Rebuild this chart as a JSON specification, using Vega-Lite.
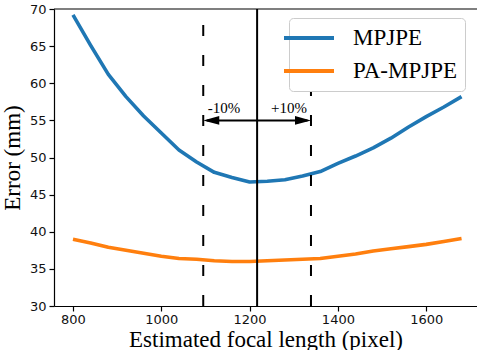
{
  "$schema": "https://vega.github.io/schema/vega-lite/v6.json",
  "width": 423,
  "height": 297,
  "autosize": "none",
  "padding": {"left": 54, "top": 9, "right": 0, "bottom": 44},
  "background": "white",
  "config": {
    "view": {"stroke": null},
    "axis": {
      "grid": false,
      "domainColor": "black",
      "domainWidth": 1.2,
      "tickColor": "black",
      "tickSize": 5,
      "tickWidth": 1.2,
      "labelFont": "DejaVu Sans",
      "labelFontSize": 13,
      "labelColor": "#111",
      "labelPadding": 3,
      "labelOverlap": false,
      "titleFont": "Liberation Serif",
      "titleFontSize": 23,
      "titleFontWeight": "normal",
      "titleColor": "black"
    }
  },
  "encoding": {
    "y": {
      "field": "e", "type": "quantitative",
      "scale": {"domain": [30, 70], "nice": false, "zero": false},
      "axis": {"values": [30, 35, 40, 45, 50, 55, 60, 65, 70], "tickCount": 9, "title": "Error (mm)", "titlePadding": 5}
    }
  },
  "layer": [
    {
      "data": {"values": [
        {"f": 800, "e": 69.2, "metric": "MPJPE"},
        {"f": 840, "e": 65.1, "metric": "MPJPE"},
        {"f": 880, "e": 61.2, "metric": "MPJPE"},
        {"f": 920, "e": 58.2, "metric": "MPJPE"},
        {"f": 960, "e": 55.6, "metric": "MPJPE"},
        {"f": 1000, "e": 53.3, "metric": "MPJPE"},
        {"f": 1040, "e": 51.0, "metric": "MPJPE"},
        {"f": 1080, "e": 49.4, "metric": "MPJPE"},
        {"f": 1120, "e": 48.0, "metric": "MPJPE"},
        {"f": 1160, "e": 47.3, "metric": "MPJPE"},
        {"f": 1200, "e": 46.7, "metric": "MPJPE"},
        {"f": 1240, "e": 46.8, "metric": "MPJPE"},
        {"f": 1280, "e": 47.0, "metric": "MPJPE"},
        {"f": 1320, "e": 47.5, "metric": "MPJPE"},
        {"f": 1360, "e": 48.1, "metric": "MPJPE"},
        {"f": 1400, "e": 49.2, "metric": "MPJPE"},
        {"f": 1440, "e": 50.2, "metric": "MPJPE"},
        {"f": 1480, "e": 51.3, "metric": "MPJPE"},
        {"f": 1520, "e": 52.6, "metric": "MPJPE"},
        {"f": 1560, "e": 54.1, "metric": "MPJPE"},
        {"f": 1600, "e": 55.5, "metric": "MPJPE"},
        {"f": 1640, "e": 56.8, "metric": "MPJPE"},
        {"f": 1680, "e": 58.2, "metric": "MPJPE"},
        {"f": 800, "e": 39.0, "metric": "PA-MPJPE"},
        {"f": 840, "e": 38.5, "metric": "PA-MPJPE"},
        {"f": 880, "e": 37.9, "metric": "PA-MPJPE"},
        {"f": 920, "e": 37.5, "metric": "PA-MPJPE"},
        {"f": 960, "e": 37.1, "metric": "PA-MPJPE"},
        {"f": 1000, "e": 36.7, "metric": "PA-MPJPE"},
        {"f": 1040, "e": 36.4, "metric": "PA-MPJPE"},
        {"f": 1080, "e": 36.3, "metric": "PA-MPJPE"},
        {"f": 1120, "e": 36.1, "metric": "PA-MPJPE"},
        {"f": 1160, "e": 36.0, "metric": "PA-MPJPE"},
        {"f": 1200, "e": 36.0, "metric": "PA-MPJPE"},
        {"f": 1240, "e": 36.1, "metric": "PA-MPJPE"},
        {"f": 1280, "e": 36.2, "metric": "PA-MPJPE"},
        {"f": 1320, "e": 36.3, "metric": "PA-MPJPE"},
        {"f": 1360, "e": 36.4, "metric": "PA-MPJPE"},
        {"f": 1400, "e": 36.7, "metric": "PA-MPJPE"},
        {"f": 1440, "e": 37.0, "metric": "PA-MPJPE"},
        {"f": 1480, "e": 37.4, "metric": "PA-MPJPE"},
        {"f": 1520, "e": 37.7, "metric": "PA-MPJPE"},
        {"f": 1560, "e": 38.0, "metric": "PA-MPJPE"},
        {"f": 1600, "e": 38.3, "metric": "PA-MPJPE"},
        {"f": 1640, "e": 38.7, "metric": "PA-MPJPE"},
        {"f": 1680, "e": 39.1, "metric": "PA-MPJPE"}
      ]},
      "mark": {"type": "line", "strokeWidth": 3.6, "strokeJoin": "round", "strokeCap": "butt"},
      "encoding": {
        "x": {
          "field": "f", "type": "quantitative",
          "scale": {"domain": [757, 1715], "nice": false, "zero": false},
          "axis": {"values": [800, 1000, 1200, 1400, 1600], "format": "d", "title": "Estimated focal length (pixel)", "titlePadding": 2, "labelPadding": 2}
        },
        "color": {
          "field": "metric", "type": "nominal",
          "scale": {"domain": ["MPJPE", "PA-MPJPE"], "range": ["#1f77b4", "#ff7f0e"]},
          "legend": {
            "title": null,
            "orient": "none",
            "legendX": 235,
            "legendY": 9,
            "symbolType": "M-2.5,0L2.5,0",
            "symbolSize": 400,
            "symbolStrokeWidth": 4,
            "symbolFillColor": "transparent",
            "labelFont": "Liberation Serif",
            "labelFontSize": 23,
            "labelColor": "black",
            "labelOffset": 32,
            "rowPadding": 9,
            "padding": 8,
            "strokeColor": "#cccccc",
            "fillColor": "white",
            "cornerRadius": 4
          }
        }
      }
    },
    {
      "data": {"values": [{"f": 1217, "e": 30, "e2": 70}]},
      "mark": {"type": "rule", "color": "black", "strokeWidth": 2},
      "encoding": {
        "x": {"field": "f", "type": "quantitative"},
        "y2": {"field": "e2"}
      }
    },
    {
      "data": {"values": [{"f": 1095, "e": 30, "e2": 70}, {"f": 1339, "e": 30, "e2": 70}]},
      "mark": {"type": "rule", "color": "black", "strokeWidth": 2, "strokeDash": [11, 19]},
      "encoding": {
        "x": {"field": "f", "type": "quantitative"},
        "y2": {"field": "e2"}
      }
    },
    {
      "data": {"values": [{"a": 1217, "b": 1103, "e": 55}, {"a": 1217, "b": 1331, "e": 55}]},
      "mark": {"type": "rule", "color": "black", "strokeWidth": 2},
      "encoding": {
        "x": {"field": "a", "type": "quantitative"},
        "x2": {"field": "b"}
      }
    },
    {
      "data": {"values": [{"f": 1095, "e": 55}]},
      "mark": {"type": "point", "shape": "M0,0L2,-0.55L2,0.55Z", "size": 256, "filled": true, "color": "black", "opacity": 1},
      "encoding": {
        "x": {"field": "f", "type": "quantitative"}
      }
    },
    {
      "data": {"values": [{"f": 1339, "e": 55}]},
      "mark": {"type": "point", "shape": "M0,0L-2,-0.55L-2,0.55Z", "size": 256, "filled": true, "color": "black", "opacity": 1},
      "encoding": {
        "x": {"field": "f", "type": "quantitative"}
      }
    },
    {
      "data": {"values": [{"f": 1142, "e": 56, "t": "-10%"}, {"f": 1289, "e": 56, "t": "+10%"}]},
      "mark": {"type": "text", "font": "Liberation Serif", "fontSize": 15, "color": "black", "baseline": "alphabetic", "align": "center"},
      "encoding": {
        "x": {"field": "f", "type": "quantitative"},
        "text": {"field": "t"}
      }
    },
    {
      "data": {"values": [{"e": 70}]},
      "mark": {"type": "rule", "color": "black", "strokeWidth": 1.2},
      "encoding": {}
    }
  ]
}
